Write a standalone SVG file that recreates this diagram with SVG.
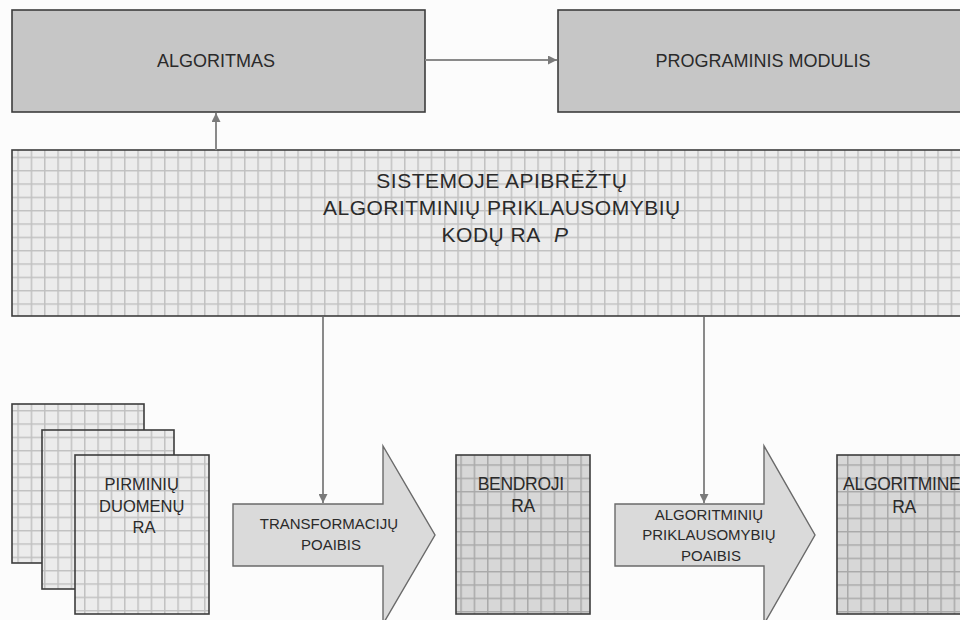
<svg xmlns="http://www.w3.org/2000/svg" width="960" height="620" viewBox="0 0 960 620">
  <style>
    .lbl { font-family: "Liberation Sans", Arial, sans-serif; fill: #2a2a2a; text-anchor: middle; }
    .solid { fill: #c6c6c6; stroke: #3c3c3c; stroke-width: 1.6; }
    .frame { stroke: #3c3c3c; stroke-width: 1.6; }
    .bigarrow { fill: #dadada; stroke: #6a6a6a; stroke-width: 1.4; }
    .conn { fill: none; stroke: #8a8a8a; stroke-width: 2; marker-end: url(#tip); }
  </style>
  <defs>
    <marker id="tip" viewBox="0 0 10 10" refX="10" refY="5" markerWidth="9" markerHeight="9" markerUnits="userSpaceOnUse" orient="auto">
      <path d="M0,0 L10,5 L0,10 z" fill="#7a7a7a"/>
    </marker>
    <!-- light square grid -->
    <pattern id="gridLight" patternUnits="userSpaceOnUse" x="4" y="10" width="13.333" height="13.333">
      <rect width="13.333" height="13.333" fill="#ececec"/>
      <path d="M0.75,0 V13.333 M0,0.75 H13.333" stroke="#c1c1c1" stroke-width="1.5"/>
    </pattern>
    <!-- darker square grid -->
    <pattern id="gridDark" patternUnits="userSpaceOnUse" x="7" y="11" width="13.333" height="13.333">
      <rect width="13.333" height="13.333" fill="#d7d7d7"/>
      <path d="M0.75,0 V13.333 M0,0.75 H13.333" stroke="#a9a9a9" stroke-width="1.5"/>
    </pattern>
  </defs>

  <rect width="960" height="620" fill="#fcfcfc"/>

  <g id="algoritmas">
    <rect class="solid" x="12" y="10" width="413" height="102"/>
    <text class="lbl" x="216" y="66.5" font-size="18">ALGORITMAS</text>
  </g>

  <g id="programinis-modulis">
    <rect class="solid" x="558" y="10" width="410" height="102"/>
    <text class="lbl" x="763" y="66.5" font-size="18">PROGRAMINIS MODULIS</text>
  </g>

  <g id="kodu-ra">
    <rect class="frame" x="12" y="150" width="956" height="166" fill="url(#gridLight)"/>
    <text class="lbl" font-size="21" letter-spacing="0.5">
      <tspan x="505" y="188">SISTEMOJE APIBRĖŽTŲ</tspan>
      <tspan x="505" y="215">ALGORITMINIŲ PRIKLAUSOMYBIŲ</tspan>
      <tspan x="505" y="242">KODŲ RA <tspan dx="8" font-style="italic">P</tspan></tspan>
    </text>
  </g>

  <g id="pirminiu-duomenu-ra">
    <rect class="frame" x="12" y="404" width="132" height="159" fill="url(#gridLight)"/>
    <rect class="frame" x="42" y="430" width="132" height="159" fill="url(#gridLight)"/>
    <rect class="frame" x="75" y="455" width="134" height="159" fill="url(#gridLight)"/>
    <text class="lbl" font-size="16.5">
      <tspan x="144" y="490">PIRMINIŲ</tspan>
      <tspan x="144" y="511.5">DUOMENŲ</tspan>
      <tspan x="144" y="533">RA</tspan>
    </text>
  </g>

  <g id="transformaciju-poaibis">
    <polygon class="bigarrow" points="233,504 383,504 383,446 435,535 383,624 383,566 233,566"/>
    <text class="lbl" font-size="15">
      <tspan x="331" y="529">TRANSFORMACIJŲ</tspan>
      <tspan x="331" y="550">POAIBIS</tspan>
    </text>
  </g>

  <g id="bendroji-ra">
    <rect class="frame" x="456" y="455" width="134" height="159" fill="url(#gridDark)"/>
    <text class="lbl" font-size="17.5" letter-spacing="-0.3">
      <tspan x="523" y="490">BENDROJI</tspan>
      <tspan x="523" y="512">RA</tspan>
    </text>
  </g>

  <g id="priklausomybiu-poaibis">
    <polygon class="bigarrow" points="615,504 764,504 764,446 815,535 764,624 764,566 615,566"/>
    <text class="lbl" font-size="15">
      <tspan x="711" y="519.5">ALGORITMINIŲ</tspan>
      <tspan x="711" y="540">PRIKLAUSOMYBIŲ</tspan>
      <tspan x="711" y="560.5">POAIBIS</tspan>
    </text>
  </g>

  <g id="algoritmine-ra">
    <rect class="frame" x="837" y="455" width="134" height="159" fill="url(#gridDark)"/>
    <text class="lbl" font-size="17.5" letter-spacing="-0.3">
      <tspan x="904" y="490">ALGORITMINE</tspan>
      <tspan x="904" y="513">RA</tspan>
    </text>
  </g>

  <g id="connectors">
    <path class="conn" d="M425,60 H557"/>
    <path class="conn" d="M216,150 V113"/>
    <path class="conn" d="M323,317 V503"/>
    <path class="conn" d="M704,317 V503"/>
  </g>
</svg>
